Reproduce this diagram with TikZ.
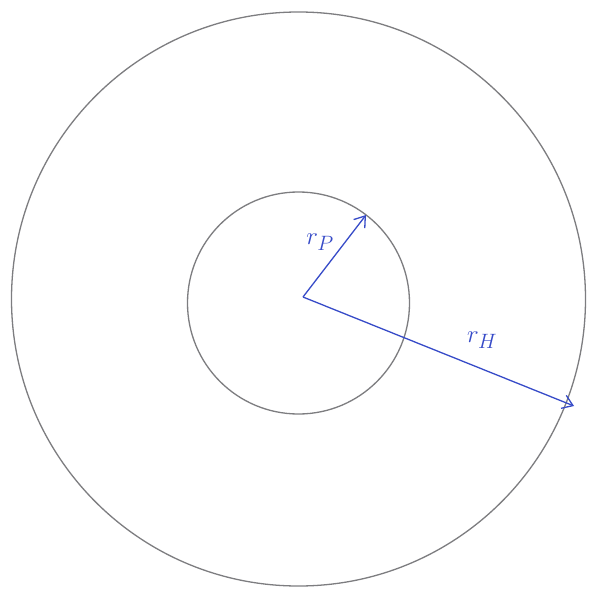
\documentclass[tikz,border=0pt]{standalone}
\usetikzlibrary{arrows.meta}
\definecolor{pencil}{RGB}{125,125,128}
\definecolor{pen}{RGB}{55,75,200}
\begin{document}
\begin{tikzpicture}[x=1pt,y=-1pt,
  ring/.style={draw=pencil,line width=1.3pt},
  radius arrow/.style={draw=pen,line width=1.3pt,-{Straight Barb[length=10pt,width=14pt,line width=1.3pt]}},
  lbl/.style={text=pen,font=\Huge}]
\fill[white] (0,0) rectangle (594,597);
\useasboundingbox (0,0) rectangle (594,597);
\draw[ring] (298.5,299) circle (287);
\draw[ring] (298.5,303) circle (111);
\coordinate (c) at (303,297);
\coordinate (p) at (366,215);
\coordinate (h) at (574,406);
\draw[radius arrow] (c) -- (p);
\draw[radius arrow] (c) -- (h);
\node[lbl] (rp) at (320,242) {$r_P$};
\node[lbl] (rh) at (482,340) {$r_H$};
\end{tikzpicture}
\end{document}
